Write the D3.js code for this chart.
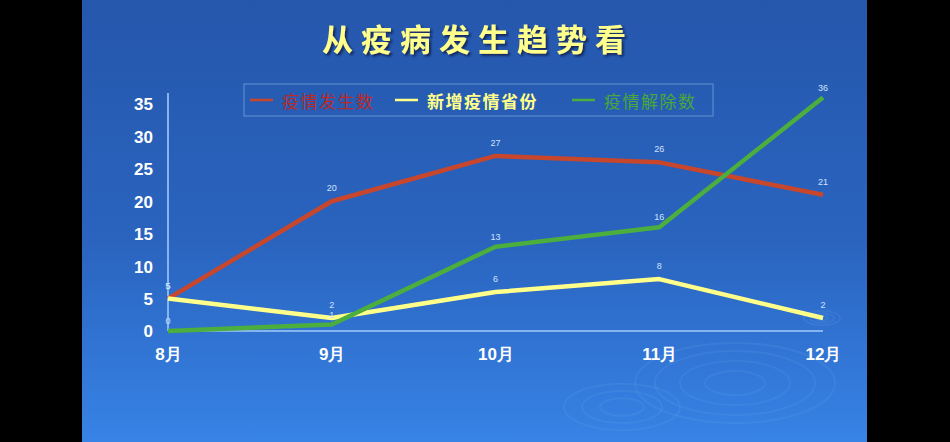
<!DOCTYPE html>
<html>
<head>
<meta charset="utf-8">
<script src="https://cdn.jsdelivr.net/npm/d3@7"></script>
<style>
  html, body { margin: 0; padding: 0; background: #000; }
  svg { display: block; }
</style>
</head>
<body>
<svg id="chart"></svg>
<script>
// chart data
var months = ["8月", "9月", "10月", "11月", "12月"];
var outbreaks = [5, 20, 27, 26, 21];      // 疫情发生数
var newProvinces = [5, 2, 6, 8, 2];       // 新增疫情省份
var lifted = [0, 1, 13, 16, 36];          // 疫情解除数
var yTicks = [0, 5, 10, 15, 20, 25, 30, 35];

var width = 950,
    height = 442;

var svg = d3.select("#chart")
    .attr("width", width)
    .attr("height", height);

var defs = svg.append("defs");
var grad = defs.append("linearGradient")
    .attr("id", "bg")
    .attr("x1", 0).attr("y1", 0).attr("x2", 0).attr("y2", 1);
grad.append("stop").attr("offset", "0%").attr("stop-color", "#2557ac");
grad.append("stop").attr("offset", "55%").attr("stop-color", "#2a64bf");
grad.append("stop").attr("offset", "100%").attr("stop-color", "#3783e6");

var shadow = defs.append("filter").attr("id", "shadow")
    .attr("x", "-10%").attr("y", "-30%").attr("width", "120%").attr("height", "160%");
shadow.append("feDropShadow")
    .attr("dx", 2).attr("dy", 2).attr("stdDeviation", 1)
    .attr("flood-color", "#0a1f45").attr("flood-opacity", 0.8);

// slide background between black side bars
svg.append("rect")
    .attr("x", 82).attr("y", 0)
    .attr("width", 785).attr("height", height)
    .attr("fill", "url(#bg)");

// faint water ripples
var ripples = [
    {cx: 735, cy: 383, rx: [30, 55, 80, 100]},
    {cx: 622, cy: 407, rx: [22, 40, 58]},
    {cx: 822, cy: 318, rx: [6, 12, 18]}
];
ripples.forEach(function (r) {
    r.rx.forEach(function (rx) {
        svg.append("ellipse")
            .attr("cx", r.cx).attr("cy", r.cy)
            .attr("rx", rx).attr("ry", rx * 0.4)
            .attr("fill", "none")
            .attr("stroke", "#7fb0f0")
            .attr("stroke-opacity", 0.13)
            .attr("stroke-width", 2);
    });
});

// title
svg.append("text")
    .attr("x", 478).attr("y", 37)
    .attr("text-anchor", "middle")
    .attr("dominant-baseline", "central")
    .attr("font-family", "'Noto Sans CJK SC', sans-serif")
    .attr("font-weight", "bold")
    .attr("font-size", 31)
    .attr("letter-spacing", 8)
    .attr("fill", "#ffff8c")
    .attr("filter", "url(#shadow)")
    .text("从疫病发生趋势看");

// scales
var x = d3.scalePoint()
    .domain(months)
    .range([168, 823]);

var y = d3.scaleLinear()
    .domain([0, 35])
    .range([331, 104]);

// axes
var yAxis = svg.append("g")
    .attr("transform", "translate(168,0)")
    .call(d3.axisLeft(y).tickValues(yTicks).tickSize(0).tickPadding(15));
yAxis.select(".domain").remove();
yAxis.append("line")
    .attr("x1", 0).attr("x2", 0)
    .attr("y1", 93).attr("y2", 331)
    .attr("stroke", "#86b4ee").attr("stroke-width", 2);

var xAxis = svg.append("g")
    .attr("transform", "translate(0,331)")
    .call(d3.axisBottom(x).tickSize(0).tickPadding(14));
xAxis.select(".domain").remove();
xAxis.append("line")
    .attr("x1", 168).attr("x2", 823)
    .attr("y1", 0).attr("y2", 0)
    .attr("stroke", "#86b4ee").attr("stroke-width", 2);

svg.selectAll(".tick text")
    .attr("fill", "#ffffff")
    .attr("font-family", "'Liberation Sans', Arial, sans-serif")
    .attr("font-weight", "bold")
    .attr("font-size", 17);
yAxis.selectAll(".tick text").attr("dy", "0.35em");
xAxis.selectAll(".tick text").attr("dy", "0.9em");

// series
var series = [
    {name: "疫情发生数", values: outbreaks, color: "#c8472c", text: "#b82a28", weight: "normal", dy: -10},
    {name: "新增疫情省份", values: newProvinces, color: "#ffff8a", text: "#ffff8a", weight: "bold", dy: -10},
    {name: "疫情解除数", values: lifted, color: "#4cae3c", text: "#48a83a", weight: "normal", dy: -7}
];

var line = d3.line()
    .x(function (d, i) { return x(months[i]); })
    .y(function (d) { return y(d); });

series.forEach(function (s) {
    svg.append("path")
        .datum(s.values)
        .attr("d", line)
        .attr("fill", "none")
        .attr("stroke", s.color)
        .attr("stroke-width", 4.5)
        .attr("stroke-linejoin", "round");
});

// data labels
series.forEach(function (s) {
    svg.append("g")
        .selectAll("text")
        .data(s.values)
        .enter()
        .append("text")
        .attr("x", function (d, i) { return x(months[i]); })
        .attr("y", function (d) { return y(d) + s.dy; })
        .attr("text-anchor", "middle")
        .attr("font-family", "'Liberation Sans', Arial, sans-serif")
        .attr("font-size", 9)
        .attr("fill", "#cfe2ff")
        .text(function (d) { return d; });
});

// legend
var legend = svg.append("g");
legend.append("rect")
    .attr("x", 244).attr("y", 84)
    .attr("width", 469).attr("height", 32)
    .attr("fill", "none")
    .attr("stroke", "#4f82c8")
    .attr("stroke-width", 1.5);

var legendX = [250, 395, 572];
series.forEach(function (s, i) {
    var lx = legendX[i];
    legend.append("line")
        .attr("x1", lx).attr("x2", lx + 23)
        .attr("y1", 100).attr("y2", 100)
        .attr("stroke", s.color)
        .attr("stroke-width", 2.5);
    legend.append("text")
        .attr("x", lx + 32).attr("y", 100)
        .attr("dominant-baseline", "central")
        .attr("font-family", "'Noto Sans CJK SC', sans-serif")
        .attr("font-weight", s.weight)
        .attr("font-size", 17)
        .attr("letter-spacing", 1.5)
        .attr("fill", s.text)
        .text(s.name);
});
</script>
</body>
</html>
